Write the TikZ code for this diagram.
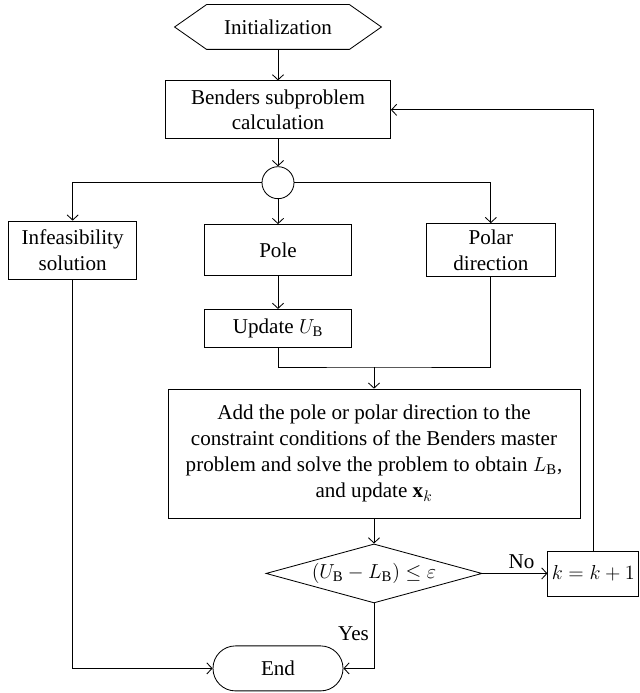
\documentclass[tikz,border=0pt]{standalone}
\usepackage{fontspec}
\setmainfont{Liberation Serif}
\usetikzlibrary{arrows.meta,positioning,shapes.geometric}
\newcommand{\flowfont}{\fontsize{15}{18.4}\selectfont}

\begin{document}
\begin{tikzpicture}[
      box/.style={
        draw,
        line width=0.6pt,
        align=center,
        font=\flowfont,
        inner sep=2pt
      },
      hexbox/.style={box, draw=none, minimum width=3.55cm, minimum height=1.1cm},
      decision/.style={box, diamond, aspect=3.66, inner sep=0pt,
        minimum width=5.4cm, minimum height=1.475cm},
      terminal/.style={box, rounded corners=0.56cm,
        minimum width=3.25cm, minimum height=1.125cm},
      flow/.style={-{Straight Barb[length=1.3mm,width=2.8mm]}, line width=0.6pt},
      line/.style={line width=0.6pt},
      lbl/.style={font=\flowfont}
    ]
      \useasboundingbox (0,0) rectangle (16,-17.325);
      \node[hexbox] (init) at (6.95,-0.675) {Initialization};
      \draw[line] (init.north west) -- (init.north east) -- ([xshift=0.8cm]init.east)
        -- (init.south east) -- (init.south west) -- ([xshift=-0.8cm]init.west) -- cycle;
      \node[box, minimum width=5.625cm, minimum height=1.45cm, below=0.775cm of init] (bsub)
        {Benders subproblem\\calculation};
      \node[box, circle, minimum size=0.8cm, inner sep=0pt, below=0.675cm of bsub] (hub) {};
      \node[box, minimum width=3.675cm, minimum height=1.275cm, below=0.625cm of hub] (pole) {Pole};
      \node[box, minimum width=3.2cm, minimum height=1.45cm, left=1.675cm of pole] (infeas)
        {Infeasibility\\solution};
      \node[box, minimum width=3.225cm, minimum height=1.325cm, right=1.85cm of pole] (polar)
        {Polar\\direction};
      \node[box, minimum width=3.675cm, minimum height=0.95cm, below=0.825cm of pole] (upd)
        {Update $U_{\mathrm{B}}$};
      \node[box, minimum width=10.3cm, minimum height=3.225cm] (master) at (9.35,-11.34)
        {Add the pole or polar direction to the\\
         constraint conditions of the Benders master\\
         problem and solve the problem to obtain $L_{\mathrm{B}}$,\\
         and update $\mathbf{x}_k$};
      \node[decision, below=0.625cm of master] (cond)
        {$(U_{\mathrm{B}}-L_{\mathrm{B}})\leq\varepsilon$};
      \node[box, minimum width=2.275cm, minimum height=1.125cm, right=1.625cm of cond] (incr)
        {$k=k+1$};
      \node[terminal] (fin) at (6.95,-16.71) {End};
      \coordinate (join) at (master.north |- 0,-9.175);
      % connectors
      \draw[flow] (init) -- (bsub);
      \draw[flow] (bsub) -- (hub);
      \draw[flow] (hub.west) -| (infeas.north);
      \draw[flow] (hub.east) -| (polar.north);
      \draw[flow] (hub) -- (pole);
      \draw[flow] (pole) -- (upd);
      \draw[line] (upd.south) |- (join) -| (polar.south);
      \draw[flow] (join) -- (master);
      \draw[flow] (master) -- (cond);
      \draw[flow] (cond.east) -- node[lbl, above, pos=0.6] {No} (incr.west);
      \draw[flow] (incr.north) |- (bsub.east);
      \draw[flow] (cond.south) |- node[lbl, left, pos=0.23] {Yes} (fin.east);
      \draw[flow] (infeas.south) |- (fin.west);
    \end{tikzpicture}
\end{document}
